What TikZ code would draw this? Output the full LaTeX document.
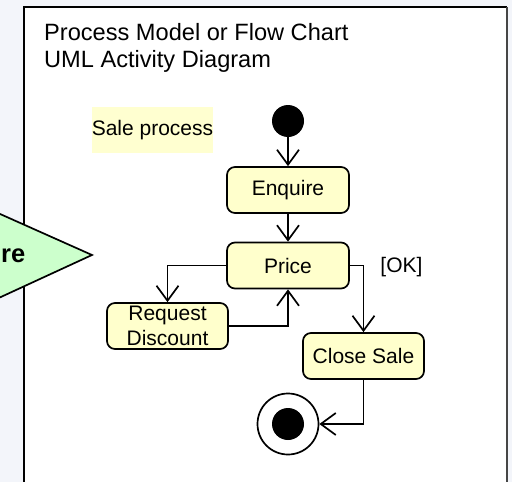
\documentclass[tikz,border=0pt]{standalone}
\usepackage{fontspec}
\setmainfont{Liberation Sans}
\usetikzlibrary{arrows.meta}
\definecolor{pagebg}{RGB}{243,245,250}
\definecolor{actfill}{RGB}{255,255,204}
\definecolor{notefill}{RGB}{255,255,208}
\definecolor{pointer}{RGB}{204,255,204}
\definecolor{edgegray}{RGB}{70,70,70}
\tikzset{
  activity/.style={draw, line width=1.7pt, fill=actfill, rounded corners=8pt,
    minimum width=122pt, minimum height=46pt, inner sep=0pt,
    font=\fontsize{21}{25}\selectfont},
  flow/.style={line width=1.7pt,
    -{Straight Barb[length=15pt,width=22pt,line width=1.7pt]}},
  plaintext/.style={inner sep=0pt, font=\fontsize{21}{25}\selectfont},
  titletext/.style={inner sep=0pt, anchor=base west, font=\fontsize{23.6}{28}\selectfont},
}
\begin{document}
\begin{tikzpicture}[x=1pt,y=-1pt]
  \useasboundingbox (0,0) rectangle (512,482);
  \clip (0,0) rectangle (512,482);
  % background and frame
  \fill[pagebg] (0,0) rectangle (512,482);
  \fill[white] (24,7) rectangle (507,490);
  \draw[line width=1.7pt] (24,490) -- (24,7) -- (507,7);
  \draw[edgegray, line width=2pt] (507,7) -- (507,490);
  % pointer shape at the left
  \draw[line width=1.7pt, fill=pointer, line join=miter]
    (-10,209.5) -- (92,255) -- (-10,302);
  \node[inner sep=0pt, anchor=base east, font=\bfseries\fontsize{25.5}{30}\selectfont]
    (ptr) at (25.5,262.5) {re};
  % heading
  \node[titletext] (t1) at (44,40) {Process Model or Flow Chart};
  \node[titletext] (t2) at (44,67.5) {UML Activity Diagram};
  % diagram name
  \node[plaintext, fill=notefill, minimum width=121pt, minimum height=46pt]
    (sale) at (152.5,130) {Sale process};
  % activity nodes
  \node[circle, fill=black, minimum size=32pt, inner sep=0pt] (start) at (288,121) {};
  \node[activity] (enq) at (288,190) {Enquire};
  \node[activity] (price) at (288,265.5) {Price};
  \node[activity, minimum width=121pt, align=center,
        font=\fontsize{21}{25}\selectfont] (rd) at (167.5,326)
        {Request\\Discount};
  \node[activity, minimum width=121pt] (cs) at (363.5,356) {Close Sale};
  \node[circle, draw, line width=1.7pt, fill=white, minimum size=61pt, inner sep=0pt]
    (end) at (288,424) {};
  \node[circle, fill=black, minimum size=32pt, inner sep=0pt] (endc) at (end) {};
  \node[plaintext] (ok) at (401.5,267) {[OK]};
  % control flows
  \draw[flow] (start) -- (enq);
  \draw[flow] (enq) -- (price);
  \draw[flow] (price.west) -| (rd.north);
  \draw[flow] (rd.east) -| (price.south);
  \draw[flow] (price.east) -| (cs.north);
  \draw[flow] (cs.south) |- (end.east);
\end{tikzpicture}
\end{document}
